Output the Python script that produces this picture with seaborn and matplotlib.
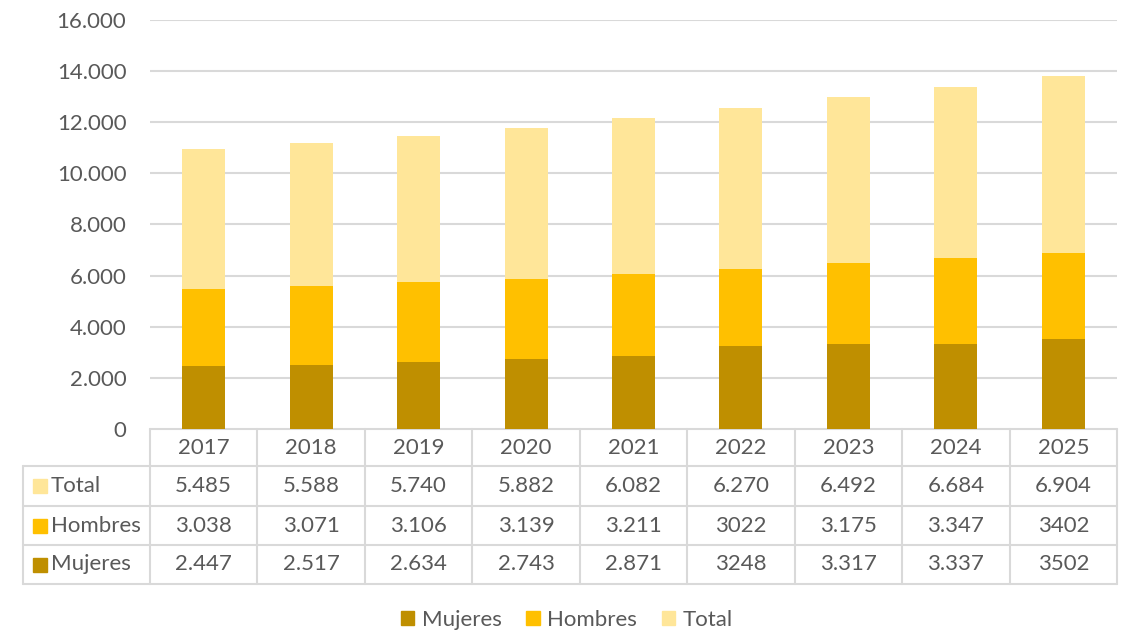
import numpy as np
import pandas as pd
import seaborn as sns
import matplotlib
matplotlib.use("Agg")
import matplotlib.pyplot as plt
from matplotlib.patches import Patch
import matplotlib.transforms as mtransforms

years = ["2017", "2018", "2019", "2020", "2021", "2022", "2023", "2024", "2025"]
mujeres = [2447, 2517, 2634, 2743, 2871, 3248, 3317, 3337, 3502]
hombres = [3038, 3071, 3106, 3139, 3211, 3022, 3175, 3347, 3402]
total = [5485, 5588, 5740, 5882, 6082, 6270, 6492, 6684, 6904]
lbl_mujeres = ["2.447", "2.517", "2.634", "2.743", "2.871", "3248", "3.317", "3.337", "3502"]
lbl_hombres = ["3.038", "3.071", "3.106", "3.139", "3.211", "3022", "3.175", "3.347", "3402"]
lbl_total = ["5.485", "5.588", "5.740", "5.882", "6.082", "6.270", "6.492", "6.684", "6.904"]
yticks = [0, 2000, 4000, 6000, 8000, 10000, 12000, 14000, 16000]
ytick_labels = ["0", "2.000", "4.000", "6.000", "8.000", "10.000", "12.000", "14.000", "16.000"]

c_muj = "#BF8F00"
c_hom = "#FFC000"
c_tot = "#FFE699"
txt = "#595959"
grid = "#D9D9D9"

sns.set_theme(style="white")
plt.rcParams["font.family"] = ["Lato", "DejaVu Sans"]

df = pd.DataFrame({"year": years, "m": mujeres, "h": hombres, "t": total})
df["mh"] = df["m"] + df["h"]
df["mht"] = df["mh"] + df["t"]

W, H = 1129, 636
fig = plt.figure(figsize=(W / 100, H / 100), dpi=100)
left, right, top, bottom = 150, 1117, 20, 429
ax = fig.add_axes([left / W, 1 - bottom / H, (right - left) / W, (bottom - top) / H])

for col, c in [("mht", c_tot), ("mh", c_hom), ("m", c_muj)]:
    sns.barplot(data=df, x="year", y=col, color=c, width=0.4, ax=ax,
                saturation=1, edgecolor="none", linewidth=0, zorder=3)

fs = 16
ax.set_ylim(0, 16000)
ax.set_xlim(-0.5, 8.5)
ax.set_yticks(yticks)
ax.set_yticklabels(ytick_labels, color=txt, fontsize=fs)
ax.tick_params(axis="y", length=0, pad=17)
ax.set_xticks([])
ax.set_xlabel("")
ax.set_ylabel("")
for s in ax.spines.values():
    s.set_visible(False)
for yv in yticks[1:]:
    ax.axhline(yv, color=grid, lw=1.5, zorder=1)

# data table
trans = mtransforms.blended_transform_factory(ax.transData, ax.transAxes)
ph = bottom - top
def yax(py):
    return (bottom - py) / ph
y_head_top = yax(429)
y_rows = [yax(466), yax(506), yax(545), yax(584)]
x_left_px = 23
x_left = -0.5 - (left - x_left_px) / ((right - left) / 9)
lk = dict(color=grid, lw=1.5, clip_on=False, transform=trans, zorder=2)
ax.plot([-0.5, 8.5], [y_head_top, y_head_top], **lk)
for yr in y_rows:
    ax.plot([x_left, 8.5], [yr, yr], **lk)
for i in range(10):
    xv = -0.5 + i
    ax.plot([xv, xv], [y_head_top, y_rows[-1]], **lk)
ax.plot([x_left, x_left], [y_rows[0], y_rows[-1]], **lk)

for i, yv in enumerate(years):
    ax.text(i, (y_head_top + y_rows[0]) / 2, yv, transform=trans, ha="center", va="center",
            color=txt, fontsize=fs)
rows = [("Total", c_tot, lbl_total), ("Hombres", c_hom, lbl_hombres), ("Mujeres", c_muj, lbl_mujeres)]
for r, (name, c, labels) in enumerate(rows):
    yc = (y_rows[r] + y_rows[r + 1]) / 2
    for i, lab in enumerate(labels):
        ax.text(i, yc, lab, transform=trans, ha="center", va="center", color=txt, fontsize=fs)
    ypx = bottom - yc * ph
    fig.patches.append(plt.Rectangle((33 / W, 1 - (ypx + 7) / H), 14 / W, 14 / H,
                                     color=c, transform=fig.transFigure, figure=fig))
    fig.text(51 / W, 1 - ypx / H, name, ha="left", va="center", color=txt, fontsize=fs)

handles = [Patch(color=c_muj, label="Mujeres"), Patch(color=c_hom, label="Hombres"),
           Patch(color=c_tot, label="Total")]
fig.legend(handles=handles, loc="center", bbox_to_anchor=(567 / W, 1 - 620 / H), ncol=3,
           frameon=False, fontsize=fs, labelcolor=txt, handlelength=0.6, handleheight=0.6,
           handletextpad=0.35, columnspacing=1.1)

fig.savefig("out.png", dpi=100, facecolor="white")
